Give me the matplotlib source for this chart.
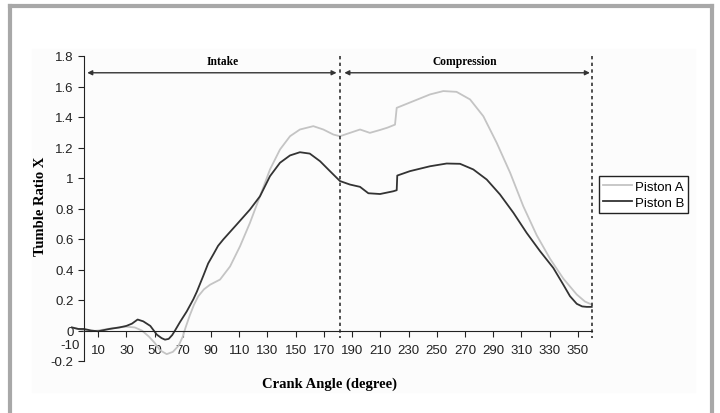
import numpy as np
import matplotlib.pyplot as plt
from matplotlib.lines import Line2D
from matplotlib.patches import Rectangle

# crank angle (deg) and tumble ratio
angle_a = [-8, -4, 0, 5, 10, 20, 30, 36, 41, 46, 50, 54, 58.6, 63, 67, 70, 72, 75, 78,
           81, 85, 89.3, 96.4, 103.5, 110.6, 117.6, 124.7, 131.8, 138.9, 146, 153, 162.5,
           169.6, 176.7, 181.4, 188.5, 195.6, 202.6, 209.8, 215, 220.4, 221.6, 233.4,
           245.2, 254.6, 264, 273.6, 283, 292.5, 302, 311.3, 320.8, 330.3, 339.7, 349.2,
           355, 359.8]
piston_a = [0.02, 0.01, 0.0, -0.005, 0.0, 0.015, 0.025, 0.02, 0.0, -0.04, -0.08, -0.13,
            -0.155, -0.14, -0.1, -0.04, 0.02, 0.1, 0.17, 0.225, 0.27, 0.30, 0.334, 0.42,
            0.553, 0.706, 0.88, 1.056, 1.187, 1.274, 1.318, 1.34, 1.318, 1.285, 1.274,
            1.296, 1.318, 1.296, 1.315, 1.33, 1.35, 1.46, 1.504, 1.548, 1.57, 1.565,
            1.515, 1.405, 1.23, 1.034, 0.815, 0.625, 0.47, 0.34, 0.236, 0.19, 0.17]

angle_b = [-8.7, -4, 0, 5, 10, 18, 25, 30, 34, 38, 42, 47, 51.6, 55, 57.4, 60, 62.5, 64.5,
           68, 72.8, 77.5, 80, 84.6, 88, 91.7, 95, 98.7, 108.2, 117.6, 124.7, 131.8, 138.9,
           146, 153, 160, 167.3, 174.3, 181.4, 188.5, 195.6, 201.5, 209.8, 219.2, 221.6,
           222, 231, 245.2, 257, 266.5, 275.9, 285.4, 294.8, 304.3, 313.7, 323.2, 332.6,
           339.7, 344.4, 349.2, 353, 356.2, 359.8]
piston_b = [0.02, 0.01, 0.01, 0.0, -0.005, 0.01, 0.02, 0.03, 0.045, 0.072, 0.06, 0.03,
            -0.027, -0.05, -0.06, -0.055, -0.03, 0.0, 0.055, 0.125, 0.205, 0.255, 0.36,
            0.44, 0.5, 0.555, 0.597, 0.695, 0.793, 0.88, 1.012, 1.10, 1.148, 1.169, 1.16,
            1.11, 1.045, 0.98, 0.957, 0.942, 0.90, 0.895, 0.913, 0.92, 1.016, 1.045,
            1.077, 1.095, 1.093, 1.056, 0.99, 0.892, 0.772, 0.64, 0.52, 0.41, 0.30, 0.225,
            0.175, 0.158, 0.155, 0.155]

x_labels = [-10] + list(range(10, 360, 20))
y_ticks = np.round(np.arange(-0.2, 1.81, 0.2), 1)
tdc_line = 181.5
end_line = 360

plt.rcParams['font.family'] = ['Liberation Sans', 'DejaVu Sans']
fig = plt.figure(figsize=(7.2, 4.14), dpi=100)
fig.patches.append(Rectangle((32 / 720, 1 - 393 / 414), 663 / 720, 343 / 414,
                             transform=fig.transFigure, color='#fcfcfc', zorder=-5))
for xs, ys in [([10, 10], [7, 420]), ([10, 712], [7, 7]), ([712, 712], [7, 420])]:
    fig.lines.append(Line2D([x / 720 for x in xs], [1 - y / 414 for y in ys],
                            transform=fig.transFigure, color='#a8a8a8', lw=3, zorder=-5))

ax = fig.add_axes([84 / 720, 1 - 362 / 414, 508 / 720, 305 / 414])
ax.set_zorder(2)
ax.patch.set_alpha(0)
ax.plot(angle_a, piston_a, color='#c4c4c4', lw=1.3, label='Piston A', clip_on=False)
ax.plot(angle_b, piston_b, color='#333333', lw=1.3, label='Piston B', clip_on=False)

ax.set_xlim(0, 360)
ax.set_ylim(-0.2, 1.8)
ax.spines['top'].set_visible(False)
ax.spines['right'].set_visible(False)
ax.spines['bottom'].set_position(('data', 0))
ax.spines['left'].set_color('#222222')
ax.spines['bottom'].set_color('#222222')
ax.set_yticks(y_ticks)
ax.set_yticklabels(['0' if v == 0 else f'{v:g}' for v in y_ticks])
ax.set_xticks(x_labels[1:])
ax.set_xticklabels([str(v) for v in x_labels[1:]])
ax.tick_params(axis='both', labelsize=9.5, length=4, color='#222222', labelcolor='#222222')
ax.tick_params(axis='x', pad=6)
ax.text(x_labels[0], -0.055, str(x_labels[0]), ha='center', va='top', fontsize=9.5,
        color='#222222', clip_on=False)

for xv in [tdc_line, end_line]:
    ax.plot([xv, xv], [1.8, -0.05], ls=(0, (2, 2)), color='#333333', lw=1.2, clip_on=False)

arrow = dict(arrowstyle='<|-|>', color='#333333', lw=1.0, mutation_scale=7,
             shrinkA=0, shrinkB=0)
ax.annotate('', xy=(2.3, 1.69), xytext=(179, 1.69), arrowprops=arrow)
ax.annotate('', xy=(184.5, 1.69), xytext=(358.5, 1.69), arrowprops=arrow)
ax.text(98, 1.765, 'Intake', ha='center', va='center', fontsize=8.3, fontweight='bold',
        family='Liberation Serif')
ax.text(270, 1.765, 'Compression', ha='center', va='center', fontsize=8.3,
        fontweight='bold', family='Liberation Serif')

fig.text(40 / 720, 1 - 206 / 414, 'Tumble Ratio X', rotation=90, ha='center', va='center',
         fontsize=10.5, fontweight='bold', family='Liberation Serif')
fig.text(330 / 720, 1 - 384 / 414, 'Crank Angle (degree)', ha='center', va='center',
         fontsize=10.5, fontweight='bold', family='Liberation Serif')

leg = ax.legend(loc='center left', bbox_to_anchor=(599 / 720, 1 - 195.5 / 414),
                bbox_transform=fig.transFigure, fontsize=9.5, fancybox=False,
                edgecolor='#222222', framealpha=1, handlelength=2.2, handletextpad=0.2,
                borderpad=0.3, labelspacing=0.3, borderaxespad=0)
leg.get_frame().set_linewidth(1.0)

fig.savefig('out.png', dpi=100, facecolor='white')
